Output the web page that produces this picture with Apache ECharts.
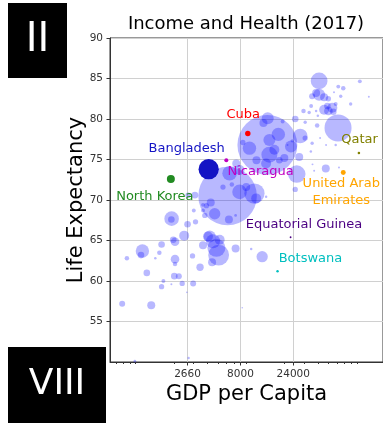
<!DOCTYPE html>
<html>
<head>
<meta charset="utf-8">
<script src="https://cdn.jsdelivr.net/npm/echarts@6/dist/echarts.min.js"></script>
<style>
  html, body { margin: 0; padding: 0; background: #ffffff; }
  #chart { width: 383px; height: 423px; }
</style>
</head>
<body>
<div id="chart"></div>
<script>
// Income (GDP per capita) against life expectancy, 2017; bubble area ~ population (millions)
const gdpPerCapita = [
  14000, 6120, 60900, 41100, 25800, 5080, 10700, 4850, 4520, 4070,
  14600, 17590, 14100, 14600, 12900, 27730, 30750, 25000, 30750, 39420,
  19230, 8410, 9650, 22880, 27160, 25000, 47190, 62100, 37050, 47490,
  35540, 13640, 7850, 6380, 7850, 7330, 13640, 17960, 12560, 10000,
  7230, 6290, 7230, 4680, 4310, 3670, 3940, 3100, 2690, 3030,
  3140, 2660, 1910, 1900, 2480, 3810, 4220, 5190, 1975, 2050,
  1550, 1040, 1010, 753, 1360, 1480, 2050, 2050, 2950, 3450,
  3670, 1140, 2020, 2220, 1610, 1550, 2380, 1900, 2990, 683,
  1250, 2620, 8300, 889, 2720, 41100, 38600, 45600, 49800, 35500,
  48800, 54100, 49800, 45600, 55200, 58000, 61200, 67900, 64400, 79200,
  95900, 115600, 56000, 34800, 29700, 33400, 38600, 40000, 41950, 23500,
  21300, 34600, 58000, 35800, 11090, 9020, 5560, 6690, 11160, 16190,
  19920, 4430, 3670
];
const lifeExpectancy = [
  76.8, 70.5, 78.9, 84.7, 73.2, 63.2, 70.8, 64.1, 64.9, 65.5,
  75.6, 78.1, 80.1, 77.4, 79.5, 77.9, 77.65, 80.0, 79.6, 79.2,
  79.7, 77.1, 76.4, 76.6, 75.3, 71.3, 73.9, 74.0, 73.6, 76.8,
  77.0, 70.4, 71.0, 73.3, 73.7, 74.5, 74.5, 74.9, 63.0, 63.95,
  64.0, 67.6, 68.1, 68.3, 69.7, 69.4, 69.3, 70.6, 70.6, 68.7,
  67.3, 67.0, 67.7, 67.6, 65.6, 68.1, 65.5, 65.1, 65.1, 64.85,
  64.5, 63.7, 63.2, 62.8, 62.8, 63.5, 62.7, 62.1, 63.1, 61.7,
  64.4, 61.0, 60.6, 60.6, 60.0, 59.3, 59.7, 59.6, 59.7, 57.2,
  57.0, 58.6, 56.7, 50.1, 50.5, 83.0, 83.2, 82.7, 82.5, 82.8,
  81.6, 81.4, 81.0, 81.15, 80.9, 81.85, 84.0, 83.8, 82.8, 81.85,
  84.65, 82.75, 83.3, 81.6, 81.0, 80.8, 81.0, 80.4, 77.65, 77.3,
  76.8, 76.0, 76.8, 74.4, 70.2, 71.6, 71.6, 71.9, 74.9, 76.2,
  75.2, 62.3, 68.7
];
const population = [
  1400, 1340, 285, 110, 120, 170, 160, 127, 77, 39,
  100, 70, 56, 56, 25, 83, 11, 17, 4.5, 8,
  6, 11, 70, 56, 25, 11, 25, 1.5, 1.5, 1.5,
  4.5, 2.5, 83, 83, 39, 25, 39, 17, 50, 2.5,
  25, 25, 3, 50, 25, 6, 11, 17, 11, 6,
  11, 17, 83, 17, 39, 11, 56, 39, 17, 29,
  17, 70, 17, 8, 2.5, 8, 29, 8, 11, 21,
  25, 17, 17, 14, 6, 11, 11, 1.6, 14, 14,
  25, 1, 1, 3, 2.2, 56, 25, 25, 11, 14,
  17, 39, 29, 39, 17, 6, 6, 8, 4.5, 4.5,
  6, 1.5, 1.5, 6, 8, 4.5, 2.5, 2.5, 1.5, 4.5,
  1.5, 2.5, 2.5, 1.5, 39, 25, 11, 8, 25, 39,
  25, 25, 6
];

// Countries picked out with their own colour and a name label
const highlightNames = ['Cuba', 'Bangladesh', 'North Korea', 'Nicaragua', 'Qatar',
  'United Arab\nEmirates', 'Equatorial Guinea', 'Botswana'];
const highlightGdp = [9320, 4130, 1880, 5960, 94000, 67900, 22700, 17300];
const highlightLife = [78.2, 73.8, 72.6, 74.9, 75.8, 73.4, 65.4, 61.2];
const highlightPop = [11.5, 160, 25, 6.2, 2.6, 9.4, 1.3, 2.3];

// Axis ticks
const xTickValues = [2660, 8000, 24000];
const xMinorTicks = [600, 700, 800, 900, 2000, 3000, 4000, 5000, 6000, 7000, 9000,
  20000, 30000, 40000, 50000, 60000, 70000, 80000, 90000];

// Styling (kept apart from the data)
const FONT = 'DejaVu Sans';
const SIZE_K = 1.6;
const highlightStyle = {
  'Cuba':                   { color: '#ff0000', off: [-4.5, -18.7] },
  'Bangladesh':             { color: '#1414c4', off: [-22, -21] },
  'North Korea':            { color: '#228b22', off: [-16, 17.5] },
  'Nicaragua':              { color: '#c000c0', off: [34.3, 11] },
  'Qatar':                  { color: '#808000', off: [0.7, -13.3] },
  'United Arab\nEmirates':  { color: '#ffa500', off: [-2, 20] },
  'Equatorial Guinea':      { color: '#4b0082', off: [13.4, -13.1] },
  'Botswana':               { color: '#00bfbf', off: [32.9, -12.7] }
};

const bubbleData = gdpPerCapita.map((g, i) => [g, lifeExpectancy[i], population[i]]);
const highlightData = highlightNames.map((n, i) => {
  const st = highlightStyle[n];
  return {
    name: n,
    value: [highlightGdp[i], highlightLife[i], highlightPop[i]],
    itemStyle: { color: st.color, opacity: 1 },
    label: {
      show: true, formatter: n, position: 'inside', offset: st.off,
      color: st.color, fontSize: 13, fontFamily: FONT,
      align: 'center', verticalAlign: 'middle', lineHeight: 17
    }
  };
});

const X_MIN = 530, X_MAX = 155200;
const chart = echarts.init(document.getElementById('chart'), null, { renderer: 'canvas' });
chart.setOption({
  animation: false,
  backgroundColor: '#ffffff',
  title: {
    text: 'Income and Health (2017)',
    left: 246, top: 15, textAlign: 'center', padding: 0,
    textStyle: { fontFamily: FONT, fontSize: 18, fontWeight: 'normal', color: '#000' }
  },
  grid: {
    left: 110, top: 38, width: 274, height: 324,
    show: true, borderColor: '#333', borderWidth: 1, backgroundColor: 'transparent'
  },
  xAxis: [{
    type: 'log', min: X_MIN, max: X_MAX,
    name: 'GDP per Capita', nameLocation: 'middle', nameGap: 22, nameMoveOverlap: false,
    nameTextStyle: { fontFamily: FONT, fontSize: 21, color: '#000' },
    axisLine: { show: true, lineStyle: { color: '#333', width: 1 } },
    axisTick: { show: true, inside: false, length: 3.5, customValues: xTickValues,
      lineStyle: { color: '#333' } },
    axisLabel: { customValues: xTickValues, margin: 7, fontFamily: FONT, fontSize: 10.5,
      color: '#333', formatter: v => String(Math.round(v)) },
    splitLine: { show: true, lineStyle: { color: '#d0d0d0', width: 1 } },
    minorTick: { show: false }
  }, {
    type: 'log', min: X_MIN, max: X_MAX, position: 'bottom', gridIndex: 0,
    axisLine: { show: false },
    axisTick: { show: true, inside: false, length: 2, customValues: xMinorTicks,
      lineStyle: { color: '#333' } },
    axisLabel: { show: false },
    splitLine: { show: false }
  }],
  yAxis: {
    type: 'value', min: 50, max: 90, interval: 5,
    name: 'Life Expectancy', nameLocation: 'middle', nameGap: 23, nameMoveOverlap: false,
    nameTextStyle: { fontFamily: FONT, fontSize: 21, color: '#000' },
    axisLine: { show: true, lineStyle: { color: '#333', width: 1 } },
    axisTick: { show: true, inside: false, length: 3.5, lineStyle: { color: '#333' } },
    axisLabel: { showMinLabel: false, margin: 7, fontFamily: FONT, fontSize: 10.5, color: '#333' },
    splitLine: { show: true, lineStyle: { color: '#d0d0d0', width: 1 } }
  },
  series: [{
    type: 'scatter',
    data: bubbleData,
    symbolSize: v => SIZE_K * Math.sqrt(v[2]),
    itemStyle: { color: 'rgba(0,0,255,0.35)' },
    emphasis: { disabled: true },
    clip: true
  }, {
    type: 'scatter',
    data: highlightData,
    symbolSize: v => SIZE_K * Math.sqrt(v[2]),
    emphasis: { disabled: true },
    z: 3
  }],
  graphic: [
    { type: 'rect', shape: { x: 8, y: 3, width: 59, height: 75 }, style: { fill: '#000' }, z: 100 },
    { type: 'text', x: 37.5, y: 41, z: 101,
      style: { text: 'II', fill: '#fff', font: '40px "DejaVu Sans"', align: 'center', verticalAlign: 'middle' } },
    { type: 'rect', shape: { x: 8, y: 347, width: 98, height: 76 }, style: { fill: '#000' }, z: 100 },
    { type: 'text', x: 57, y: 385, z: 101,
      style: { text: 'VIII', fill: '#fff', font: '36px "DejaVu Sans"', align: 'center', verticalAlign: 'middle' } }
  ]
});
</script>
</body>
</html>
